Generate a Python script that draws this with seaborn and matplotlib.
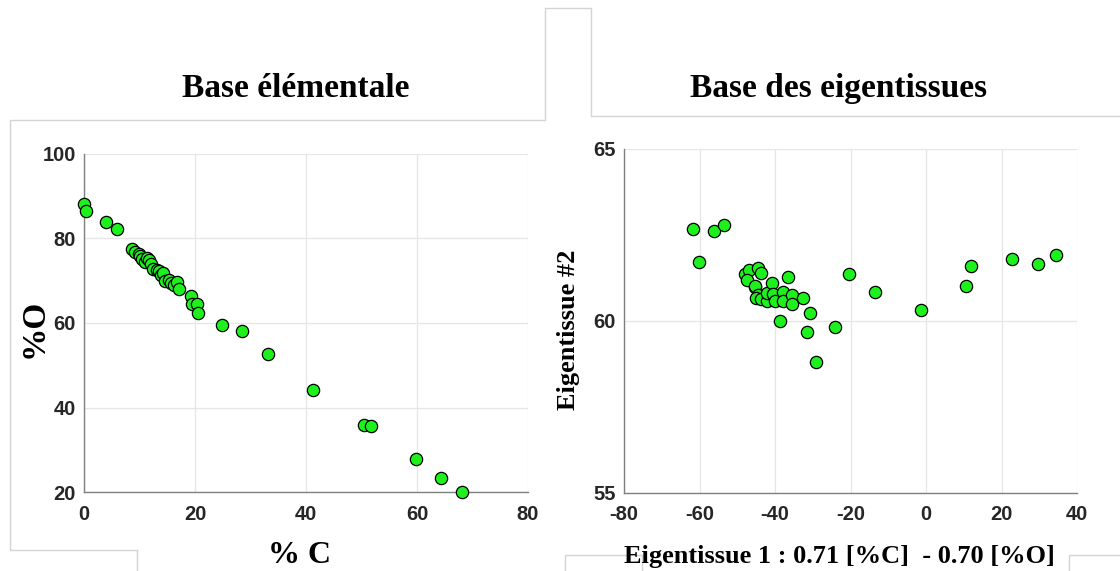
import matplotlib
matplotlib.use("Agg")
import matplotlib.pyplot as plt
from matplotlib.lines import Line2D
import seaborn as sns
import pandas as pd

# Elemental composition of the tissues (mass %)
carbon_pct = [0.0, 0.4, 3.9, 5.9, 8.7, 9.2, 9.9, 10.1, 10.5, 11.0, 11.4, 11.7,
              12.0, 12.5, 13.2, 13.6, 13.8, 14.3, 14.6, 15.3, 15.7, 16.2, 16.8,
              17.2, 19.2, 19.4, 20.3, 20.6, 24.8, 28.4, 33.1, 41.3, 50.5, 51.7,
              59.8, 64.4, 68.1]
oxygen_pct = [88.2, 86.4, 84.0, 82.3, 77.4, 76.8, 76.4, 75.8, 75.2, 74.5, 75.3,
              74.9, 74.0, 72.8, 72.5, 72.2, 71.4, 71.8, 69.9, 70.2, 69.5, 69.0,
              69.6, 68.1, 66.3, 64.6, 64.6, 62.3, 59.5, 58.2, 52.7, 44.1, 35.9,
              35.6, 27.9, 23.2, 20.0]

# Same tissues expressed in the eigentissue basis
eigen1 = [-61.8, -60.1, -56.1, -53.4, -48.0, -46.8, -47.3, -44.6, -43.8, -45.3,
          -45.4, -44.4, -45.1, -43.6, -42.0, -42.2, -40.7, -40.4, -40.0, -38.0,
          -37.8, -36.6, -35.6, -35.6, -32.6, -38.7, -30.8, -31.6, -29.1, -24.0,
          -20.5, -13.5, -1.4, 10.7, 11.8, 22.9, 29.6, 34.5]
eigen2 = [62.66, 61.72, 62.61, 62.80, 61.36, 61.49, 61.20, 61.54, 61.39, 61.00,
          61.02, 60.76, 60.68, 60.63, 60.58, 60.81, 61.10, 60.78, 60.57, 60.83,
          60.57, 61.27, 60.76, 60.49, 60.66, 60.01, 60.24, 59.69, 58.81, 59.83,
          61.38, 60.83, 60.33, 61.03, 61.59, 61.79, 61.67, 61.92]

left_xticks = [0, 20, 40, 60, 80]
left_yticks = [20, 40, 60, 80, 100]
right_xticks = [-80, -60, -40, -20, 0, 20, 40]
right_yticks = [55, 60, 65]

titles = ["Base élémentale", "Base des eigentissues"]
left_xlabel = "% C"
left_ylabel = "%O"
right_xlabel = "Eigentissue 1 : 0.71 [%C]  - 0.70 [%O]"
right_ylabel = "Eigentissue #2"

elem = pd.DataFrame({"C": carbon_pct, "O": oxygen_pct})
eig = pd.DataFrame({"E1": eigen1, "E2": eigen2})

sns.set_theme(style="white")
plt.rcParams["font.family"] = ["Liberation Sans", "DejaVu Sans"]
plt.rcParams["axes.unicode_minus"] = False

W, H = 1120, 571
fig = plt.figure(figsize=(W / 100, H / 100), dpi=100)


def px_box(x0, y0, x1, y1):
    """Axes rectangle from pixel corners (top-left origin)."""
    return [x0 / W, 1 - y1 / H, (x1 - x0) / W, (y1 - y0) / H]


def fx(x):
    return x / W


def fy(y):
    return 1 - y / H


ax1 = fig.add_axes(px_box(84, 154, 528, 492))
ax2 = fig.add_axes(px_box(624, 149, 1077, 493))

marker_kw = dict(s=78, color="#1ef01e", edgecolor="black", linewidth=0.9,
                 legend=False, zorder=3, clip_on=False)
sns.scatterplot(data=elem, x="C", y="O", ax=ax1, **marker_kw)
sns.scatterplot(data=eig, x="E1", y="E2", ax=ax2, **marker_kw)

for ax, xt, yt in [(ax1, left_xticks, left_yticks), (ax2, right_xticks, right_yticks)]:
    ax.set_xlim(xt[0], xt[-1])
    ax.set_ylim(yt[0], yt[-1])
    ax.set_xticks(xt)
    ax.set_yticks(yt)
    ax.set_xlabel("")
    ax.set_ylabel("")
    ax.grid(True, color="#e6e6e6", linewidth=0.9, zorder=0)
    ax.set_axisbelow(True)
    for side in ["top", "right"]:
        ax.spines[side].set_visible(False)
    for side in ["left", "bottom"]:
        ax.spines[side].set_color("#808080")
        ax.spines[side].set_linewidth(1.0)
    ax.tick_params(axis="both", direction="in", length=3, width=0.8,
                   color="#808080", labelsize=14.5, labelcolor="#262626")
    ax.tick_params(axis="x", pad=9)
    ax.tick_params(axis="y", pad=6)
    for lab in ax.get_xticklabels() + ax.get_yticklabels():
        lab.set_fontweight("bold")
    ax.set_facecolor("white")

serif = ["Liberation Serif", "DejaVu Serif"]
txt = dict(family=serif, weight="bold", color="black")
fig.text(fx(296), fy(97), titles[0], size=24, ha="center", va="baseline", **txt)
fig.text(fx(839), fy(97), titles[1], size=24, ha="center", va="baseline", **txt)
fig.text(fx(299), fy(563), left_xlabel, size=23, ha="center", va="baseline", **txt)
fig.text(fx(34), fy(328), left_ylabel, size=24, ha="center", va="center",
         rotation=90, **txt)
fig.text(fx(839), fy(563), right_xlabel, size=19, ha="center", va="baseline", **txt)
fig.text(fx(569), fy(330), right_ylabel, size=19, ha="center", va="center",
         rotation=90, **txt)

# Light panel outlines around the two figure blocks
frame = "#d4d4d4"
segments = [
    [(10, 120), (545, 120)], [(545, 120), (545, 8)], [(545, 8), (591, 8)],
    [(591, 8), (591, 116)], [(591, 116), (1120, 116)],
    [(10, 120), (10, 550)], [(10, 550), (137, 550)], [(137, 550), (137, 571)],
    [(565, 571), (565, 555)], [(565, 555), (642, 555)], [(642, 555), (642, 571)],
    [(1069, 571), (1069, 555)], [(1069, 555), (1120, 555)],
]
for (xa, ya), (xb, yb) in segments:
    fig.add_artist(Line2D([fx(xa), fx(xb)], [fy(ya), fy(yb)], color=frame,
                          linewidth=1.0, transform=fig.transFigure, zorder=0))

fig.savefig("out.png", dpi=100, facecolor="white")
